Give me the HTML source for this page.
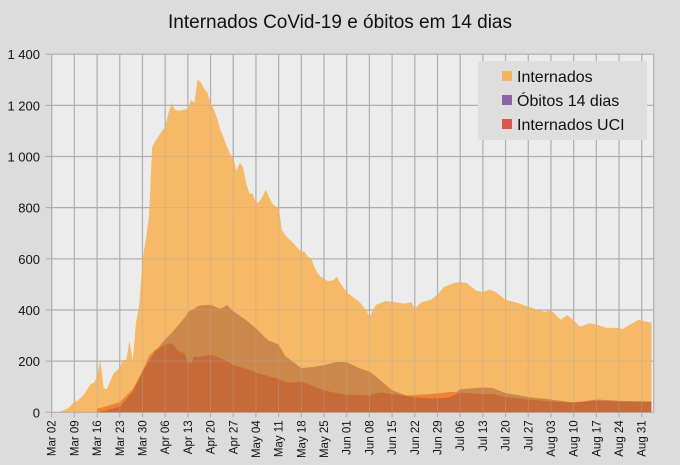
<!DOCTYPE html>
<html><head><meta charset="utf-8"><style>
body{margin:0;background:#dcdcdc;font-family:"Liberation Sans",sans-serif}
svg{display:block}
</style></head><body>
<svg id="chart" width="680" height="465">
<rect x="0" y="0" width="680" height="465" fill="#dcdcdc"/>
<text x="340" y="28" text-anchor="middle" font-size="19" fill="#111">Internados CoVid-19 e óbitos em 14 dias</text>
<rect x="51.7" y="54" width="602" height="358.3" fill="#ececec"/>
<g id="grid"></g>
<g id="marks"></g>
<g id="yaxis"></g>
<g id="xaxis"></g>
<g>
<rect x="478" y="61" width="169" height="79" fill="#dedede"/>
<rect x="502" y="71" width="10" height="10" fill="#f5b55c"/>
<text x="517" y="82" font-size="16" fill="#111">Internados</text>
<rect x="502" y="95" width="10" height="10" fill="#8a64a6"/>
<text x="517" y="106" font-size="16" fill="#111">Óbitos 14 dias</text>
<rect x="502" y="119" width="10" height="10" fill="#d9574f"/>
<text x="517" y="130" font-size="16" fill="#111">Internados UCI</text>
</g>
</svg>
<script>
const intDays=[2,3,5,7,8,10,12,13,14,15,16,17,19,21,22,23,24,25,26,27,28,29,30,31,32,33,34,35,36,37,38,39,40,41,42,43,44,45,46,47,48,49,50,51,52,53,54,55,56,57,58,59,60,61,62,63,64,65,66,67,68,69,70,71,72,73,74,75,76,77,78,79,80,81,82,83,84,85,86,87,88,89,91,93,95,97,98,100,103,106,109,111,112,114,117,119,121,124,126,128,131,133,135,137,140,143,147,150,152,154,157,159,161,163,166,168,171,175,176,178,181,183,185];
const intVals=[0,5,15,41,45,70,110,115,140,205,95,90,150,175,205,205,280,200,350,420,595,674,763,1038,1060,1080,1100,1115,1170,1210,1183,1180,1180,1185,1183,1221,1210,1300,1290,1265,1250,1210,1185,1150,1105,1075,1040,1010,995,945,975,960,895,855,855,817,823,843,870,843,817,805,800,713,693,680,668,654,641,628,628,608,602,569,543,530,523,514,514,517,530,505,470,450,430,400,372,420,435,430,425,430,405,430,440,460,490,505,510,505,475,470,480,470,440,430,413,400,393,400,362,380,360,335,348,343,330,330,325,340,362,355,350];
const sDays=[14,16,21,25,28,30,32,35,37,39,41,42,43,44,45,46,49,52,53,54,56,60,63,66,67,70,72,73,77,81,84,88,91,95,98,100,102,105,109,112,116,120,123,126,133,136,140,147,154,161,168,175,182,185];
const obitosVals=[0,5,22,80,160,200,240,285,310,340,370,390,400,405,415,418,420,405,410,420,395,360,328,290,280,265,220,211,172,178,184,197,195,172,159,140,118,86,67,58,55,55,60,90,97,95,75,60,50,38,50,45,42,42];
const uciVals=[15,20,40,90,160,220,245,265,270,240,230,200,190,220,215,218,225,212,205,200,185,170,155,145,140,130,120,115,120,100,85,75,68,68,65,75,78,70,65,68,70,75,80,78,70,72,60,50,42,40,45,42,42,42];
const yTicks=[0,200,400,600,800,1000,1200,1400];
const yLabels=["0","200","400","600","800","1 000","1 200","1 400"];
const xTickDays=[0,7,14,21,28,35,42,49,56,63,70,77,84,91,98,105,112,119,126,133,140,147,154,161,168,175,182];
const xLabels=["Mar 02","Mar 09","Mar 16","Mar 23","Mar 30","Apr 06","Apr 13","Apr 20","Apr 27","May 04","May 11","May 18","May 25","Jun 01","Jun 08","Jun 15","Jun 22","Jun 29","Jul 06","Jul 13","Jul 20","Jul 27","Aug 03","Aug 10","Aug 17","Aug 24","Aug 31"];

const NS="http://www.w3.org/2000/svg";
const X0=51.7,PX=3.242,Y0=412.3,PY=0.2558,XR=653.7,YT=54;
const xs=d=>X0+d*PX, ys=v=>Y0-v*PY;
function mk(t,a,parent){const e=document.createElementNS(NS,t);for(const k in a)e.setAttribute(k,a[k]);parent.appendChild(e);return e;}
const grid=document.getElementById('grid'),marks=document.getElementById('marks'),ya=document.getElementById('yaxis'),xa=document.getElementById('xaxis');
yTicks.forEach((v,i)=>{
  const l=mk('line',{x1:X0-6,x2:XR,y1:ys(v),y2:ys(v),stroke:'#b0b0b0','stroke-width':1.2},grid);
  
  
  const t=mk('text',{x:40,y:ys(v)+5,'text-anchor':'end','font-size':13,fill:'#111'},ya);
  t.textContent=yLabels[i];
  
  
});
xTickDays.forEach((d,i)=>{
  const l=mk('line',{x1:xs(d),x2:xs(d),y1:YT,y2:Y0+5,stroke:'#b0b0b0','stroke-width':1.2},grid);
  
  
  const t=mk('text',{transform:`translate(${xs(d)+4},${Y0+8}) rotate(-90)`,'text-anchor':'end','font-size':11.5,fill:'#111'},xa);
  t.textContent=xLabels[i];
  
  
});
mk('line',{x1:XR,x2:XR,y1:YT,y2:Y0,stroke:'#b0b0b0','stroke-width':1.2},grid);
function area(days,vals){let p=`M${xs(days[0])},${Y0}`;days.forEach((d,i)=>p+=`L${xs(d)},${ys(vals[i])}`);return p+`L${xs(days[days.length-1])},${Y0}Z`;}
const a1=mk('path',{d:area(intDays,intVals),fill:'#f5b55c','fill-opacity':0.93},marks);


const a2=mk('path',{d:area(sDays,obitosVals),fill:'#c98449','fill-opacity':0.95},marks);


const a3=mk('path',{d:area(sDays,uciVals),fill:'#ef7f2c','fill-opacity':0.95},marks);


const minVals=sDays.map((d,i)=>Math.min(obitosVals[i],uciVals[i]));
const a4=mk('path',{d:area(sDays,minVals),fill:'#c66a38'},marks);


// faint gridlines over areas
yTicks.forEach(v=>{const l=mk('line',{x1:X0,x2:XR,y1:ys(v),y2:ys(v),stroke:'#b0b0b0','stroke-opacity':0.35},marks);});
xTickDays.forEach(d=>{const l=mk('line',{x1:xs(d),x2:xs(d),y1:YT,y2:Y0,stroke:'#b0b0b0','stroke-opacity':0.35},marks);});
</script>
</body></html>
